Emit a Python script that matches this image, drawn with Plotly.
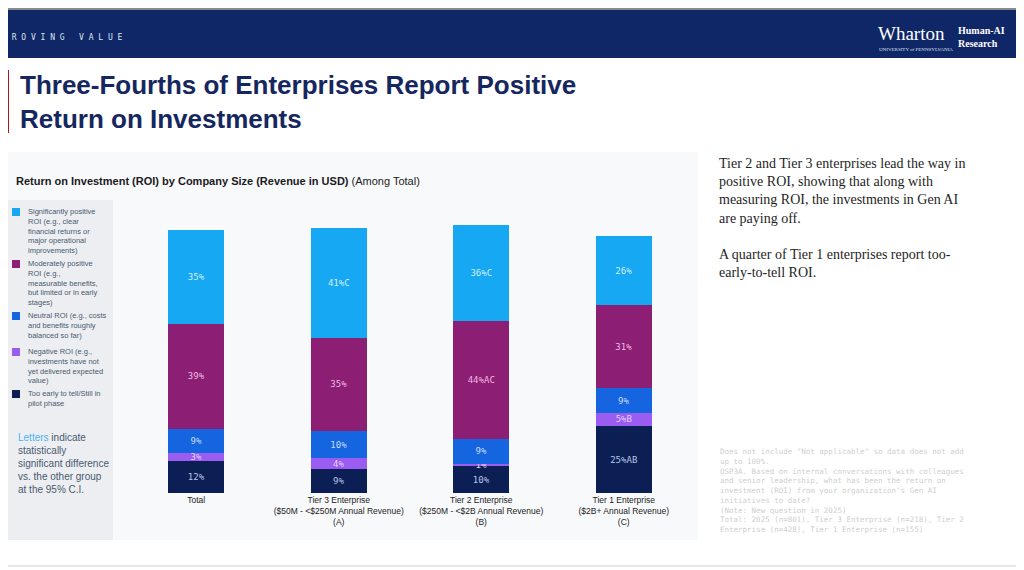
import plotly.graph_objects as go

# chart data (percent of respondents)
categories = ["Total", "Tier 3 Enterprise<br>($50M - <$250M Annual Revenue)<br>(A)",
              "Tier 2 Enterprise<br>($250M - <$2B Annual Revenue)<br>(B)",
              "Tier 1 Enterprise<br>($2B+ Annual Revenue)<br>(C)"]
too_early = [12, 9, 10, 25]
negative = [3, 4, 1, 5]
neutral = [9, 10, 9, 9]
moderate = [39, 35, 44, 31]
significant = [35, 41, 36, 26]
too_early_lbl = ["12%", "9%", "10%", "25%AB"]
negative_lbl = ["3%", "4%", "1%", "5%B"]
neutral_lbl = ["9%", "10%", "9%", "9%"]
moderate_lbl = ["39%", "35%", "44%AC", "31%"]
significant_lbl = ["35%", "41%C", "36%C", "26%"]

legend_items = [
    ("Significantly positive<br>ROI (e.g., clear<br>financial returns or<br>major operational<br>improvements)", "#16a8f2", 216),
    ("Moderately positive<br>ROI (e.g.,<br>measurable benefits,<br>but limited or in early<br>stages)", "#8c1f74", 268),
    ("Neutral ROI (e.g., costs<br>and benefits roughly<br>balanced so far)", "#1565e0", 320),
    ("Negative ROI (e.g.,<br>investments have not<br>yet delivered expected<br>value)", "#9b5cf2", 356),
    ("Too early to tell/Still in<br>pilot phase", "#0b1f55", 398),
]

W, H = 1024, 570
OFF = 8  # page body margin
def px(x): return (x - OFF) / W
def py(y): return 1 - (y - OFF) / H

series = [
    (too_early, too_early_lbl, "#0b1f55", "#b9c3e6"),
    (negative, negative_lbl, "#9b5cf2", "#e2d2ff"),
    (neutral, neutral_lbl, "#1565e0", "#c7dcff"),
    (moderate, moderate_lbl, "#8c1f74", "#f0b8e3"),
    (significant, significant_lbl, "#16a8f2", "#d5efff"),
]

fig = go.Figure()
for vals, lbls, col, tcol in series:
    fig.add_trace(go.Bar(
        x=categories, y=vals, text=lbls, marker_color=col,
        marker_line_width=0, textposition="inside", insidetextanchor="middle",
        textfont=dict(family="DejaVu Sans Mono", size=9, color=tcol),
        textangle=0, constraintext="none", hoverinfo="skip"))

shapes = [
    dict(type="rect", xref="paper", yref="paper", x0=0, x1=1, y0=py(10), y1=1,
         fillcolor="#8a8a8a", line_width=0, layer="below"),
    dict(type="rect", xref="paper", yref="paper", x0=0, x1=1, y0=py(58), y1=py(10),
         fillcolor="#0f2766", line_width=0, layer="below"),
    dict(type="rect", xref="paper", yref="paper", x0=px(3), x1=px(9), y0=py(133), y1=py(70),
         fillcolor="#b3121f", line_width=0, layer="below"),
    dict(type="rect", xref="paper", yref="paper", x0=px(3), x1=px(698), y0=py(540), y1=py(152),
         fillcolor="#f8f9fb", line_width=0, layer="below"),
    dict(type="rect", xref="paper", yref="paper", x0=px(3), x1=px(113), y0=py(540), y1=py(200),
         fillcolor="#eceef2", line_width=0, layer="below"),
    dict(type="line", xref="paper", yref="paper", x0=0, x1=1, y0=py(566), y1=py(566),
         line=dict(color="#cfcfcf", width=1)),
]

ann = [
    dict(text="P R O V I N G   V A L U E", x=px(0), y=py(37), xanchor="left", yanchor="middle",
         font=dict(family="DejaVu Sans Mono", size=8, color="#dfe4f0")),
    dict(text="Wharton", x=px(876), y=py(33), xanchor="left", yanchor="middle",
         font=dict(family="Liberation Serif", size=19, color="white")),
    dict(text="UNIVERSITY of PENNSYLVANIA", x=px(877), y=py(49), xanchor="left", yanchor="middle",
         font=dict(family="Liberation Serif", size=5, color="#dfe4f0")),
    dict(text="<b>Human-AI<br>Research</b>", x=px(956), y=py(37), xanchor="left", yanchor="middle",
         align="left", font=dict(family="Liberation Serif", size=10, color="white")),
    dict(text="<b>Three-Fourths of Enterprises Report Positive<br>Return on Investments</b>",
         x=px(18), y=py(102), xanchor="left", yanchor="middle", align="left",
         font=dict(family="Liberation Sans Narrow, Liberation Sans", size=26, color="#15275e")),
    dict(text="<b>Return on Investment (ROI) by Company Size (Revenue in USD)</b> (Among Total)",
         x=px(14), y=py(181), xanchor="left", yanchor="middle",
         font=dict(family="Liberation Sans", size=11, color="#1b1b1b")),
    dict(text="<span style='color:#4fb3f0'>Letters</span> indicate<br>statistically<br>significant difference<br>vs. the other group<br>at the 95% C.I.",
         x=px(16), y=py(463), xanchor="left", yanchor="middle", align="left",
         font=dict(family="Liberation Sans", size=10, color="#4a5a6e")),
    dict(text="Tier 2 and Tier 3 enterprises lead the way in<br>positive ROI, showing that along with<br>measuring ROI, the investments in Gen AI<br>are paying off.<br><br>A quarter of Tier 1 enterprises report too-<br>early-to-tell ROI.",
         x=px(717), y=py(154), xanchor="left", yanchor="top", align="left",
         font=dict(family="Liberation Serif", size=14, color="#1e1e1e")),
    dict(text="Does not include \"Not applicable\" so data does not add<br>up to 100%.<br>QSP3A. Based on internal conversations with colleagues<br>and senior leadership, what has been the return on<br>investment (ROI) from your organization's Gen AI<br>initiatives to date?<br>(Note: New question in 2025)<br>Total: 2025 (n=801), Tier 3 Enterprise (n=218), Tier 2<br>Enterprise (n=428), Tier 1 Enterprise (n=155)",
         x=px(718), y=py(445), xanchor="left", yanchor="top", align="left",
         font=dict(family="DejaVu Sans Mono", size=7.5, color="#cfcfcf")),
]
for label, col, y in legend_items:
    shapes.append(dict(type="rect", xref="paper", yref="paper", x0=px(12), x1=px(20),
                       y0=py(y), y1=py(y - 8), fillcolor=col, line_width=0))
    ann.append(dict(text=label, x=px(26), y=py(y - 11), xanchor="left", yanchor="top",
                    align="left", font=dict(family="Liberation Sans", size=7.5, color="#4a5a6e")))
for a in ann:
    a.update(xref="paper", yref="paper", showarrow=False)

fig.update_layout(
    width=W, height=H, barmode="stack", bargap=0.61, showlegend=False,
    margin=dict(l=0, r=0, t=0, b=0), paper_bgcolor="white", plot_bgcolor="rgba(0,0,0,0)",
    shapes=shapes, annotations=ann,
    xaxis=dict(domain=[px(125), px(695)], anchor="y", showgrid=False, zeroline=False,
               ticks="", tickfont=dict(family="Liberation Sans", size=8.5, color="#222")),
    yaxis=dict(domain=[py(493), py(225)], range=[0, 100], visible=False),
)
fig.write_html("out.html")
